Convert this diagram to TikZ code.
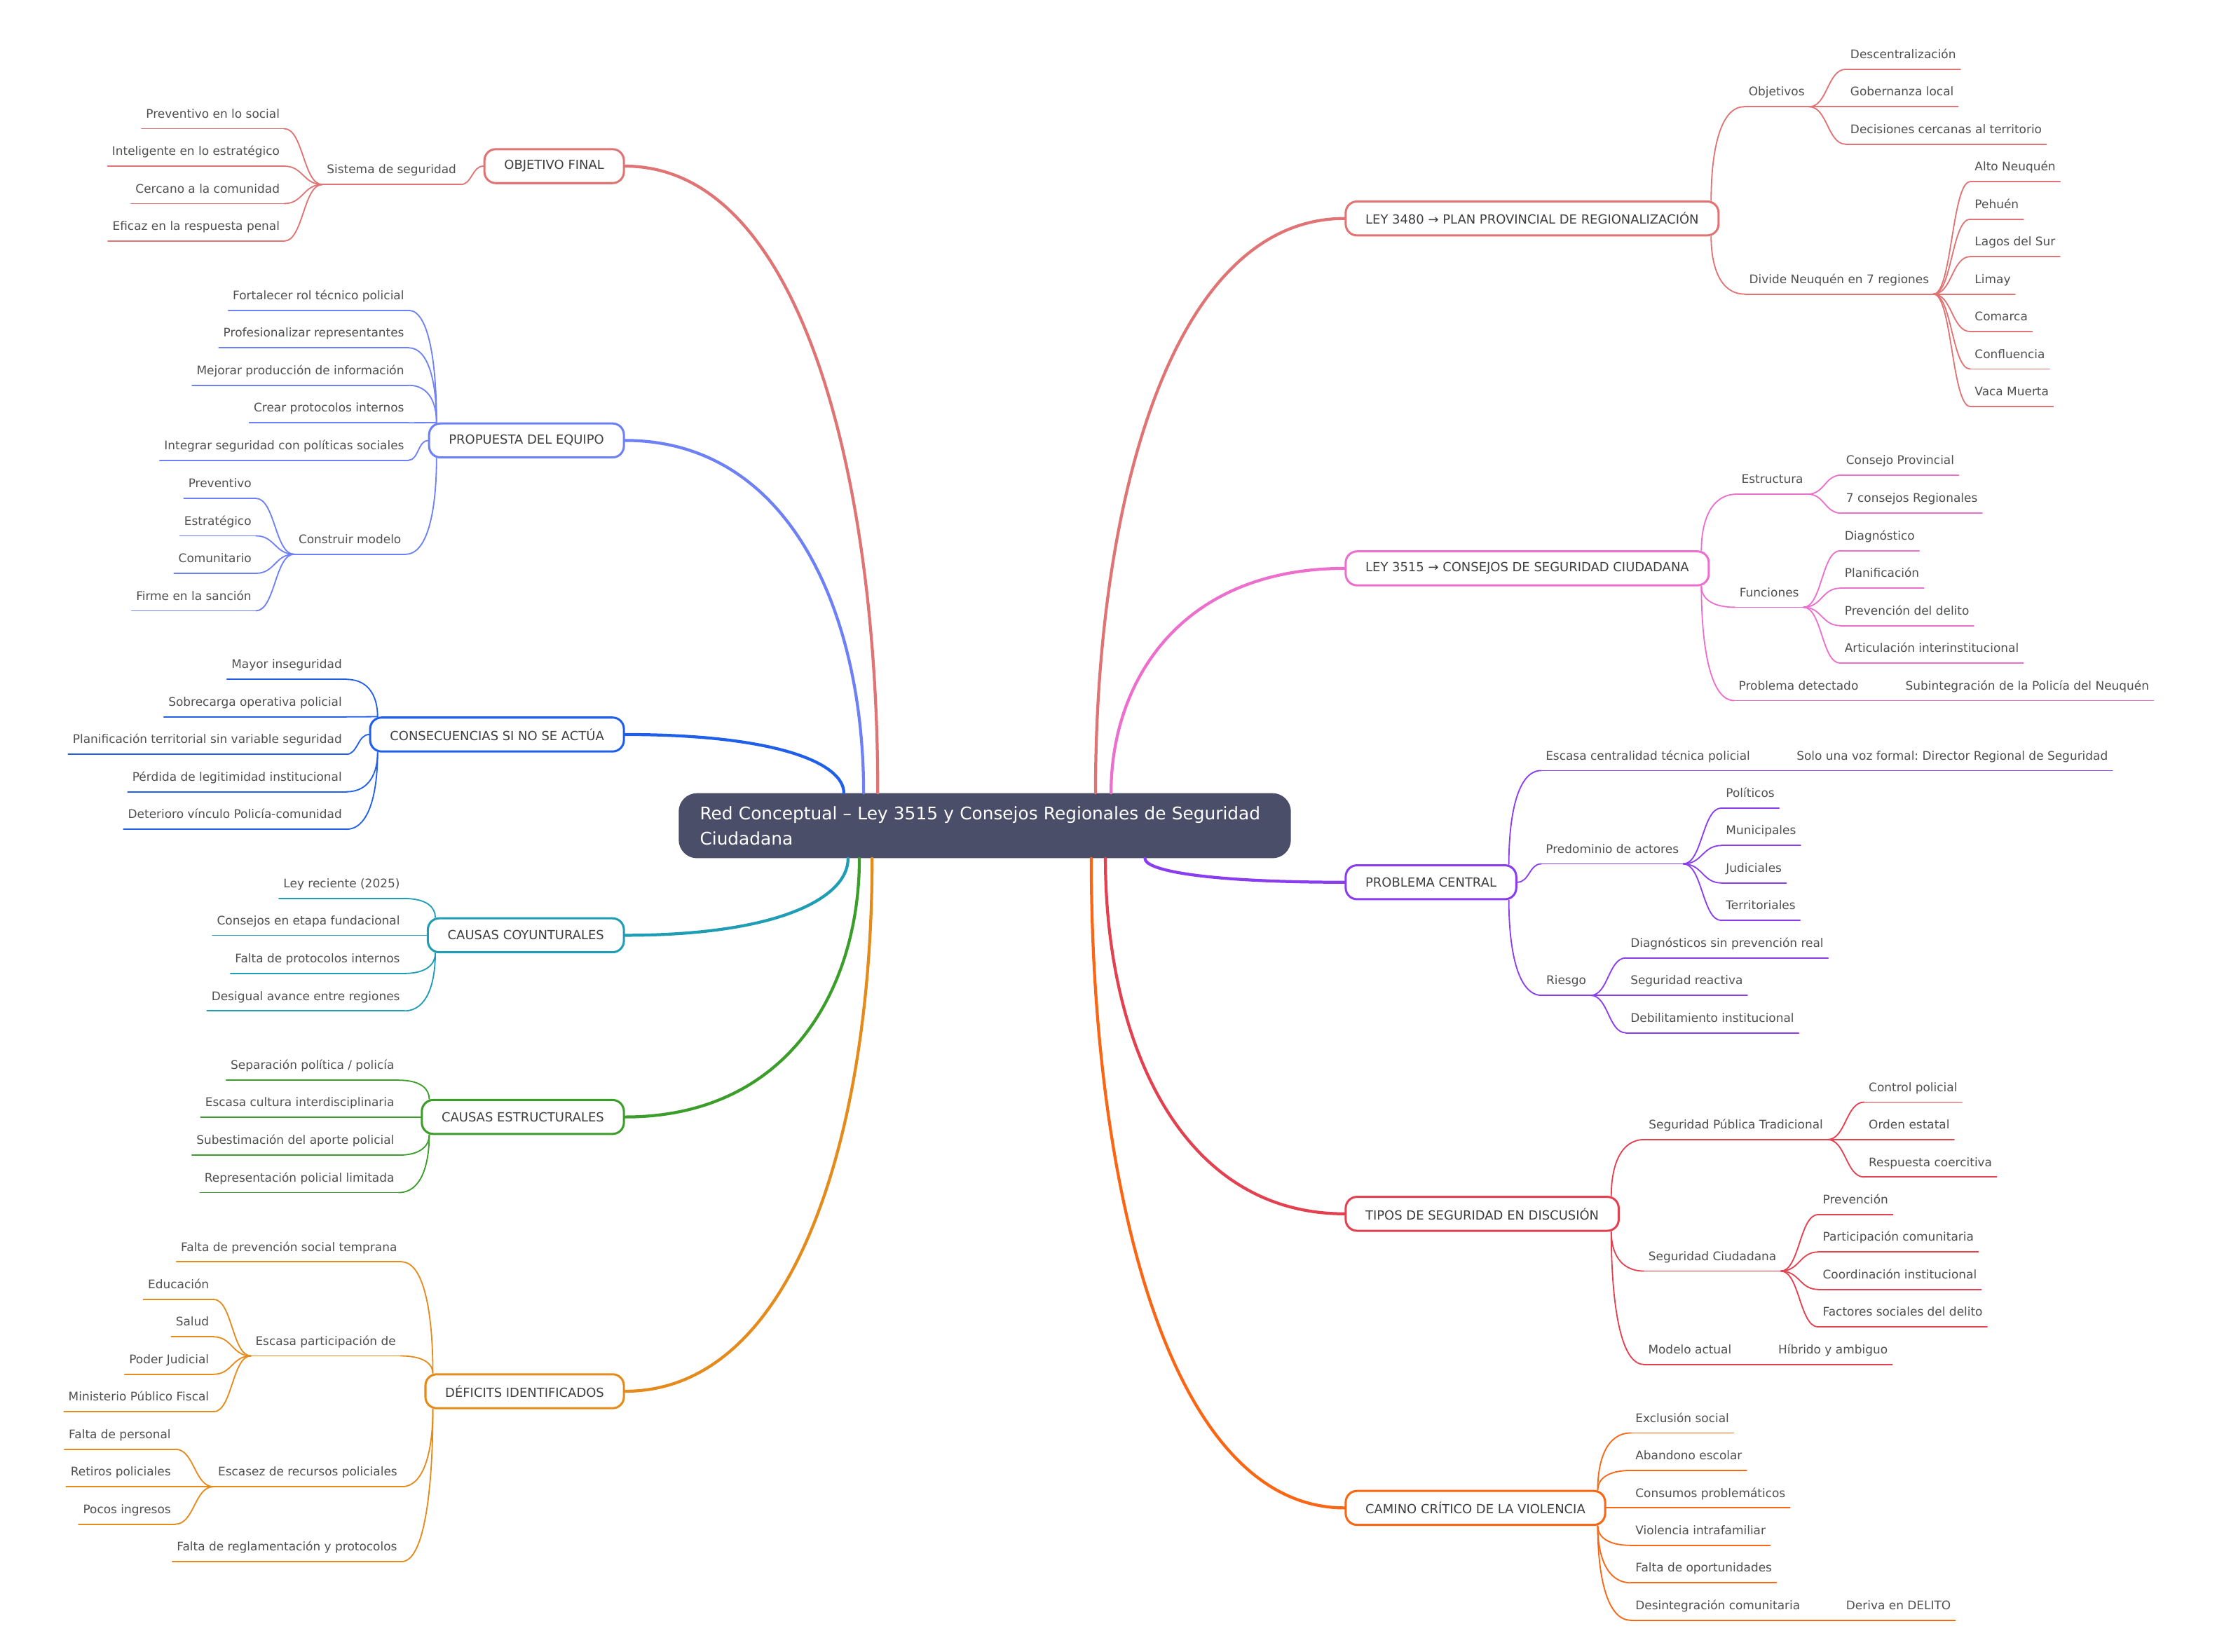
\documentclass[tikz,border=0pt]{standalone}
\usepackage{fontspec}
\setmainfont{DejaVu Sans}
\frenchspacing
\usetikzlibrary{calc}
\definecolor{cRoot}{HTML}{4A4E69}
\definecolor{cObj}{HTML}{E07474}
\definecolor{cProp}{HTML}{6E80F5}
\definecolor{cCons}{HTML}{1F5FE9}
\definecolor{cCoy}{HTML}{1E9DB4}
\definecolor{cEst}{HTML}{3C9E2A}
\definecolor{cDef}{HTML}{E48B1C}
\definecolor{cLeyA}{HTML}{E07474}
\definecolor{cLeyB}{HTML}{EC6FCD}
\definecolor{cProb}{HTML}{8A3CEF}
\definecolor{cTipos}{HTML}{E3414F}
\definecolor{cCam}{HTML}{FB6614}
\definecolor{txtMain}{HTML}{3E3E3E}
\definecolor{txtLeaf}{HTML}{4F4F4F}
\tikzset{
  rootbox/.style={fill=cRoot, rounded corners=13pt, text=white, font=\fontsize{12.3}{18}\selectfont, text width=403pt, align=left, inner xsep=15pt, inner ysep=5pt, minimum height=46pt},
  topic/.style={draw=#1, line width=1.5pt, fill=white, rounded corners=8pt, text=txtMain, font=\fontsize{8.9}{10}\selectfont, inner xsep=14pt, minimum height=24pt},
  lf/.style={font=\fontsize{8.4}{10}\selectfont, text=txtLeaf, inner xsep=3pt, inner ysep=5.5pt, text height=6.3pt, text depth=1.9pt, append after command={(\tikzlastnode.south west) edge[draw=#1, line width=0.9pt] (\tikzlastnode.south east)}},
  trunkline/.style={draw=#1, line width=2.1pt, to path={.. controls ($(\tikztostart)!0.5!(\tikztostart|-\tikztotarget)$) and ($(\tikztostart|-\tikztotarget)!0.3!(\tikztotarget)$) .. (\tikztotarget)}},
  uplink/.style={draw=#1, line width=0.9pt, to path={.. controls ($(\tikztostart)!0.5!(\tikztostart|-\tikztotarget)$) and ($(\tikztostart|-\tikztotarget)!0.25!(\tikztotarget)$) .. (\tikztotarget)}},
  slink/.style={draw=#1, line width=0.9pt, to path={.. controls ($(\tikztostart)!0.5!(\tikztostart-|\tikztotarget)$) and ($(\tikztotarget)!0.5!(\tikztotarget-|\tikztostart)$) .. (\tikztotarget)}}
}
\begin{document}
\begin{tikzpicture}[x=1pt, y=-1pt, line join=round, line cap=round]
\fill[white] (0,0) rectangle (1568,1168);
\useasboundingbox (0,0) rectangle (1568,1168);

\node[rootbox] (root) at (696.5,584) {\mbox{Red Conceptual – Ley 3515 y Consejos Regionales de Seguridad}\\Ciudadana};
\coordinate (tCons) at ($(root.north west)+(117,0)$);
\coordinate (tProp) at ($(root.north west)+(131,0)$);
\coordinate (tObj) at ($(root.north west)+(141,0)$);
\coordinate (tCoy) at ($(root.south west)+(120,0)$);
\coordinate (tEst) at ($(root.south west)+(128,0)$);
\coordinate (tDef) at ($(root.south west)+(137,0)$);
\coordinate (tLeyA) at ($(root.north west)+(295,0)$);
\coordinate (tLeyB) at ($(root.north west)+(306,0)$);
\coordinate (tCam) at ($(root.south west)+(292,0)$);
\coordinate (tTip) at ($(root.south west)+(302,0)$);
\coordinate (tProb) at ($(root.south west)+(330,0)$);

\node[topic=cObj, anchor=east] (obj) at (442,117.5) {OBJETIVO FINAL};
\node[lf=cObj, anchor=south west] (sis) at (228,130.5) {Sistema de seguridad};
\node[lf=cObj, anchor=south east] (sis1) at (201,91) {Preventivo en lo social};
\node[lf=cObj, anchor=south east] (sis2) at (201,117.5) {Inteligente en lo estratégico};
\node[lf=cObj, anchor=south east] (sis3) at (201,144) {Cercano a la comunidad};
\node[lf=cObj, anchor=south east] (sis4) at (201,170.5) {Eficaz en la respuesta penal};

\node[topic=cProp, anchor=east] (prop) at (442,311.5) {PROPUESTA DEL EQUIPO};
\coordinate (propT) at ($(prop.north west)+(6,0)$);
\coordinate (propB) at ($(prop.south west)+(6,0)$);
\node[lf=cProp, anchor=south east] (prop1) at (289,219.5) {Fortalecer rol técnico policial};
\node[lf=cProp, anchor=south east] (prop2) at (289,246) {Profesionalizar representantes};
\node[lf=cProp, anchor=south east] (prop3) at (289,272.5) {Mejorar producción de información};
\node[lf=cProp, anchor=south east] (prop4) at (289,299) {Crear protocolos internos};
\node[lf=cProp, anchor=south east] (prop5) at (289,325.5) {Integrar seguridad con políticas sociales};
\node[lf=cProp, anchor=south west] (mod) at (208,392) {Construir modelo};
\node[lf=cProp, anchor=south east] (mod1) at (181,352.5) {Preventivo};
\node[lf=cProp, anchor=south east] (mod2) at (181,379) {Estratégico};
\node[lf=cProp, anchor=south east] (mod3) at (181,405.5) {Comunitario};
\node[lf=cProp, anchor=south east] (mod4) at (181,432) {Firme en la sanción};

\node[topic=cCons, anchor=east] (cons) at (442,519.5) {CONSECUENCIAS SI NO SE ACTÚA};
\coordinate (consT) at ($(cons.north west)+(6,0)$);
\coordinate (consB) at ($(cons.south west)+(6,0)$);
\node[lf=cCons, anchor=south east] (cons1) at (245,480.5) {Mayor inseguridad};
\node[lf=cCons, anchor=south east] (cons2) at (245,507) {Sobrecarga operativa policial};
\node[lf=cCons, anchor=south east] (cons3) at (245,533.5) {Planificación territorial sin variable seguridad};
\node[lf=cCons, anchor=south east] (cons4) at (245,560) {Pérdida de legitimidad institucional};
\node[lf=cCons, anchor=south east] (cons5) at (245,586.5) {Deterioro vínculo Policía-comunidad};

\node[topic=cCoy, anchor=east] (coy) at (442,661.5) {CAUSAS COYUNTURALES};
\coordinate (coyT) at ($(coy.north west)+(6,0)$);
\coordinate (coyB) at ($(coy.south west)+(6,0)$);
\node[lf=cCoy, anchor=south east] (coy1) at (286,635.5) {Ley reciente (2025)};
\node[lf=cCoy, anchor=south east] (coy2) at (286,661.5) {Consejos en etapa fundacional};
\node[lf=cCoy, anchor=south east] (coy3) at (286,688.5) {Falta de protocolos internos};
\node[lf=cCoy, anchor=south east] (coy4) at (286,715) {Desigual avance entre regiones};

\node[topic=cEst, anchor=east] (est) at (442,790) {CAUSAS ESTRUCTURALES};
\coordinate (estT) at ($(est.north west)+(6,0)$);
\coordinate (estB) at ($(est.south west)+(6,0)$);
\node[lf=cEst, anchor=south east] (est1) at (282,764) {Separación política / policía};
\node[lf=cEst, anchor=south east] (est2) at (282,790) {Escasa cultura interdisciplinaria};
\node[lf=cEst, anchor=south east] (est3) at (282,817) {Subestimación del aporte policial};
\node[lf=cEst, anchor=south east] (est4) at (282,843.5) {Representación policial limitada};

\node[topic=cDef, anchor=east] (def) at (442,984) {DÉFICITS IDENTIFICADOS};
\coordinate (defT) at ($(def.north west)+(6,0)$);
\coordinate (defB) at ($(def.south west)+(6,0)$);
\node[lf=cDef, anchor=south east] (def1) at (284,892.5) {Falta de prevención social temprana};
\node[lf=cDef, anchor=south west] (part) at (177.5,959) {Escasa participación de};
\node[lf=cDef, anchor=south east] (part1) at (151,919) {Educación};
\node[lf=cDef, anchor=south east] (part2) at (151,945.5) {Salud};
\node[lf=cDef, anchor=south east] (part3) at (151,972) {Poder Judicial};
\node[lf=cDef, anchor=south east] (part4) at (151,998.5) {Ministerio Público Fiscal};
\node[lf=cDef, anchor=south west] (rec) at (151,1051.5) {Escasez de recursos policiales};
\node[lf=cDef, anchor=south east] (rec1) at (124,1025) {Falta de personal};
\node[lf=cDef, anchor=south east] (rec2) at (124,1051.5) {Retiros policiales};
\node[lf=cDef, anchor=south east] (rec3) at (124,1078) {Pocos ingresos};
\node[lf=cDef, anchor=south east] (def4) at (284,1104.5) {Falta de reglamentación y protocolos};

\node[topic=cLeyA, anchor=west] (leyA) at (951,154.5) {LEY 3480 → PLAN PROVINCIAL DE REGIONALIZACIÓN};
\coordinate (leyAT) at ($(leyA.north east)+(-6,0)$);
\coordinate (leyAB) at ($(leyA.south east)+(-6,0)$);
\node[lf=cLeyA, anchor=south east] (objv) at (1279.5,75.5) {Objetivos};
\node[lf=cLeyA, anchor=south west] (objv1) at (1305.5,49) {Descentralización};
\node[lf=cLeyA, anchor=south west] (objv2) at (1305.5,75.5) {Gobernanza local};
\node[lf=cLeyA, anchor=south west] (objv3) at (1305.5,102) {Decisiones cercanas al territorio};
\node[lf=cLeyA, anchor=south east] (reg) at (1367.5,208) {Divide Neuquén en 7 regiones};
\node[lf=cLeyA, anchor=south west] (reg1) at (1393.5,128.5) {Alto Neuquén};
\node[lf=cLeyA, anchor=south west] (reg2) at (1393.5,155) {Pehuén};
\node[lf=cLeyA, anchor=south west] (reg3) at (1393.5,181.5) {Lagos del Sur};
\node[lf=cLeyA, anchor=south west] (reg4) at (1393.5,208) {Limay};
\node[lf=cLeyA, anchor=south west] (reg5) at (1393.5,234.5) {Comarca};
\node[lf=cLeyA, anchor=south west] (reg6) at (1393.5,261) {Confluencia};
\node[lf=cLeyA, anchor=south west] (reg7) at (1393.5,287.5) {Vaca Muerta};

\node[topic=cLeyB, anchor=west] (leyB) at (951,402) {LEY 3515 → CONSEJOS DE SEGURIDAD CIUDADANA};
\coordinate (leyBT) at ($(leyB.north east)+(-6,0)$);
\coordinate (leyBB) at ($(leyB.south east)+(-6,0)$);
\node[lf=cLeyB, anchor=south east] (estr) at (1278.5,349.5) {Estructura};
\node[lf=cLeyB, anchor=south west] (estr1) at (1302.5,336) {Consejo Provincial};
\node[lf=cLeyB, anchor=south west] (estr2) at (1302.5,363) {7 consejos Regionales};
\node[lf=cLeyB, anchor=south east] (func) at (1275.5,429.5) {Funciones};
\node[lf=cLeyB, anchor=south west] (func1) at (1301.5,389.5) {Diagnóstico};
\node[lf=cLeyB, anchor=south west] (func2) at (1301.5,416) {Planificación};
\node[lf=cLeyB, anchor=south west] (func3) at (1301.5,442.5) {Prevención del delito};
\node[lf=cLeyB, anchor=south west] (func4) at (1301.5,469) {Articulación interinstitucional};
\node[lf=cLeyB, anchor=south west] (pdet) at (1226.5,495.5) {Problema detectado};
\node[lf=cLeyB, anchor=south west] (subi) at (1344.5,495.5) {Subintegración de la Policía del Neuquén};

\node[topic=cProb, anchor=west] (prob) at (951,624) {PROBLEMA CENTRAL};
\coordinate (probT) at ($(prob.north east)+(-6,0)$);
\coordinate (probB) at ($(prob.south east)+(-6,0)$);
\node[lf=cProb, anchor=south west] (cent) at (1090,545) {Escasa centralidad técnica policial};
\node[lf=cProb, anchor=south west] (voz) at (1267.5,545) {Solo una voz formal: Director Regional de Seguridad};
\node[lf=cProb, anchor=south east] (act) at (1190.5,611) {Predominio de actores};
\node[lf=cProb, anchor=south west] (act1) at (1217.5,571.5) {Políticos};
\node[lf=cProb, anchor=south west] (act2) at (1217.5,598) {Municipales};
\node[lf=cProb, anchor=south west] (act3) at (1217.5,624.5) {Judiciales};
\node[lf=cProb, anchor=south west] (act4) at (1217.5,651) {Territoriales};
\node[lf=cProb, anchor=south east] (ries) at (1125,704) {Riesgo};
\node[lf=cProb, anchor=south west] (ries1) at (1150,677.5) {Diagnósticos sin prevención real};
\node[lf=cProb, anchor=south west] (ries2) at (1150,704) {Seguridad reactiva};
\node[lf=cProb, anchor=south west] (ries3) at (1150,730.5) {Debilitamiento institucional};

\node[topic=cTipos, anchor=west] (tip) at (951,858.5) {TIPOS DE SEGURIDAD EN DISCUSIÓN};
\coordinate (tipT) at ($(tip.north east)+(-6,0)$);
\coordinate (tipB) at ($(tip.south east)+(-6,0)$);
\node[lf=cTipos, anchor=south east] (spt) at (1292.5,806) {Seguridad Pública Tradicional};
\node[lf=cTipos, anchor=south west] (spt1) at (1318.5,779.5) {Control policial};
\node[lf=cTipos, anchor=south west] (spt2) at (1318.5,806) {Orden estatal};
\node[lf=cTipos, anchor=south west] (spt3) at (1318.5,832.5) {Respuesta coercitiva};
\node[lf=cTipos, anchor=south east] (sciu) at (1259.5,899) {Seguridad Ciudadana};
\node[lf=cTipos, anchor=south west] (sciu1) at (1286,859) {Prevención};
\node[lf=cTipos, anchor=south west] (sciu2) at (1286,885.5) {Participación comunitaria};
\node[lf=cTipos, anchor=south west] (sciu3) at (1286,912) {Coordinación institucional};
\node[lf=cTipos, anchor=south west] (sciu4) at (1286,938.5) {Factores sociales del delito};
\node[lf=cTipos, anchor=south west] (mact) at (1162.5,965) {Modelo actual};
\node[lf=cTipos, anchor=south west] (hib) at (1254.5,965) {Híbrido y ambiguo};

\node[topic=cCam, anchor=west] (cam) at (951,1066.5) {CAMINO CRÍTICO DE LA VIOLENCIA};
\coordinate (camT) at ($(cam.north east)+(-6,0)$);
\coordinate (camB) at ($(cam.south east)+(-6,0)$);
\node[lf=cCam, anchor=south west] (cam1) at (1153.5,1013.5) {Exclusión social};
\node[lf=cCam, anchor=south west] (cam2) at (1153.5,1040) {Abandono escolar};
\node[lf=cCam, anchor=south west] (cam3) at (1153.5,1066.5) {Consumos problemáticos};
\node[lf=cCam, anchor=south west] (cam4) at (1153.5,1093) {Violencia intrafamiliar};
\node[lf=cCam, anchor=south west] (cam5) at (1153.5,1119.5) {Falta de oportunidades};
\node[lf=cCam, anchor=south west] (cam6) at (1153.5,1146) {Desintegración comunitaria};
\node[lf=cCam, anchor=south west] (der) at (1302.5,1146) {Deriva en DELITO};

\draw[trunkline=cObj] (tObj) to (obj.east);
\draw[trunkline=cProp] (tProp) to (prop.east);
\draw[trunkline=cCons] (tCons) to (cons.east);
\draw[trunkline=cCoy] (tCoy) to (coy.east);
\draw[trunkline=cEst] (tEst) to (est.east);
\draw[trunkline=cDef] (tDef) to (def.east);
\draw[trunkline=cLeyA] (tLeyA) to (leyA.west);
\draw[trunkline=cLeyB] (tLeyB) to (leyB.west);
\draw[trunkline=cProb] (tProb) to (prob.west);
\draw[trunkline=cTipos] (tTip) to (tip.west);
\draw[trunkline=cCam] (tCam) to (cam.west);

\draw[slink=cObj] (obj.west) to (sis.south east);
\draw[slink=cObj] (sis.south west) to (sis1.south east);
\draw[slink=cObj] (sis.south west) to (sis2.south east);
\draw[slink=cObj] (sis.south west) to (sis3.south east);
\draw[slink=cObj] (sis.south west) to (sis4.south east);

\draw[uplink=cProp] (propT) to (prop1.south east);
\draw[uplink=cProp] (propT) to (prop2.south east);
\draw[uplink=cProp] (propT) to (prop3.south east);
\draw[uplink=cProp] (propT) to (prop4.south east);
\draw[slink=cProp] (prop.west) to (prop5.south east);
\draw[uplink=cProp] (propB) to (mod.south east);
\draw[slink=cProp] (mod.south west) to (mod1.south east);
\draw[slink=cProp] (mod.south west) to (mod2.south east);
\draw[slink=cProp] (mod.south west) to (mod3.south east);
\draw[slink=cProp] (mod.south west) to (mod4.south east);

\draw[uplink=cCons] (consT) to (cons1.south east);
\draw[uplink=cCons] (consT) to (cons2.south east);
\draw[slink=cCons] (cons.west) to (cons3.south east);
\draw[uplink=cCons] (consB) to (cons4.south east);
\draw[uplink=cCons] (consB) to (cons5.south east);

\draw[uplink=cCoy] (coyT) to (coy1.south east);
\draw[slink=cCoy] (coy.west) to (coy2.south east);
\draw[uplink=cCoy] (coyB) to (coy3.south east);
\draw[uplink=cCoy] (coyB) to (coy4.south east);

\draw[uplink=cEst] (estT) to (est1.south east);
\draw[slink=cEst] (est.west) to (est2.south east);
\draw[uplink=cEst] (estB) to (est3.south east);
\draw[uplink=cEst] (estB) to (est4.south east);

\draw[uplink=cDef] (defT) to (def1.south east);
\draw[uplink=cDef] (defT) to (part.south east);
\draw[slink=cDef] (part.south west) to (part1.south east);
\draw[slink=cDef] (part.south west) to (part2.south east);
\draw[slink=cDef] (part.south west) to (part3.south east);
\draw[slink=cDef] (part.south west) to (part4.south east);
\draw[uplink=cDef] (defB) to (rec.south east);
\draw[slink=cDef] (rec.south west) to (rec1.south east);
\draw[slink=cDef] (rec.south west) to (rec2.south east);
\draw[slink=cDef] (rec.south west) to (rec3.south east);
\draw[uplink=cDef] (defB) to (def4.south east);

\draw[uplink=cLeyA] (leyAT) to (objv.south west);
\draw[slink=cLeyA] (objv.south east) to (objv1.south west);
\draw[slink=cLeyA] (objv.south east) to (objv2.south west);
\draw[slink=cLeyA] (objv.south east) to (objv3.south west);
\draw[uplink=cLeyA] (leyAB) to (reg.south west);
\draw[slink=cLeyA] (reg.south east) to (reg1.south west);
\draw[slink=cLeyA] (reg.south east) to (reg2.south west);
\draw[slink=cLeyA] (reg.south east) to (reg3.south west);
\draw[slink=cLeyA] (reg.south east) to (reg4.south west);
\draw[slink=cLeyA] (reg.south east) to (reg5.south west);
\draw[slink=cLeyA] (reg.south east) to (reg6.south west);
\draw[slink=cLeyA] (reg.south east) to (reg7.south west);

\draw[uplink=cLeyB] (leyBT) to (estr.south west);
\draw[slink=cLeyB] (estr.south east) to (estr1.south west);
\draw[slink=cLeyB] (estr.south east) to (estr2.south west);
\draw[uplink=cLeyB] (leyBB) to (func.south west);
\draw[slink=cLeyB] (func.south east) to (func1.south west);
\draw[slink=cLeyB] (func.south east) to (func2.south west);
\draw[slink=cLeyB] (func.south east) to (func3.south west);
\draw[slink=cLeyB] (func.south east) to (func4.south west);
\draw[uplink=cLeyB] (leyBB) to (pdet.south west);
\draw[slink=cLeyB] (pdet.south east) to (subi.south west);

\draw[uplink=cProb] (probT) to (cent.south west);
\draw[slink=cProb] (cent.south east) to (voz.south west);
\draw[slink=cProb] (prob.east) to (act.south west);
\draw[slink=cProb] (act.south east) to (act1.south west);
\draw[slink=cProb] (act.south east) to (act2.south west);
\draw[slink=cProb] (act.south east) to (act3.south west);
\draw[slink=cProb] (act.south east) to (act4.south west);
\draw[uplink=cProb] (probB) to (ries.south west);
\draw[slink=cProb] (ries.south east) to (ries1.south west);
\draw[slink=cProb] (ries.south east) to (ries2.south west);
\draw[slink=cProb] (ries.south east) to (ries3.south west);

\draw[uplink=cTipos] (tipT) to (spt.south west);
\draw[slink=cTipos] (spt.south east) to (spt1.south west);
\draw[slink=cTipos] (spt.south east) to (spt2.south west);
\draw[slink=cTipos] (spt.south east) to (spt3.south west);
\draw[uplink=cTipos] (tipB) to (sciu.south west);
\draw[slink=cTipos] (sciu.south east) to (sciu1.south west);
\draw[slink=cTipos] (sciu.south east) to (sciu2.south west);
\draw[slink=cTipos] (sciu.south east) to (sciu3.south west);
\draw[slink=cTipos] (sciu.south east) to (sciu4.south west);
\draw[uplink=cTipos] (tipB) to (mact.south west);
\draw[slink=cTipos] (mact.south east) to (hib.south west);

\draw[uplink=cCam] (camT) to (cam1.south west);
\draw[uplink=cCam] (camT) to (cam2.south west);
\draw[slink=cCam] (cam.east) to (cam3.south west);
\draw[uplink=cCam] (camB) to (cam4.south west);
\draw[uplink=cCam] (camB) to (cam5.south west);
\draw[uplink=cCam] (camB) to (cam6.south west);
\draw[slink=cCam] (cam6.south east) to (der.south west);
\end{tikzpicture}
\end{document}
